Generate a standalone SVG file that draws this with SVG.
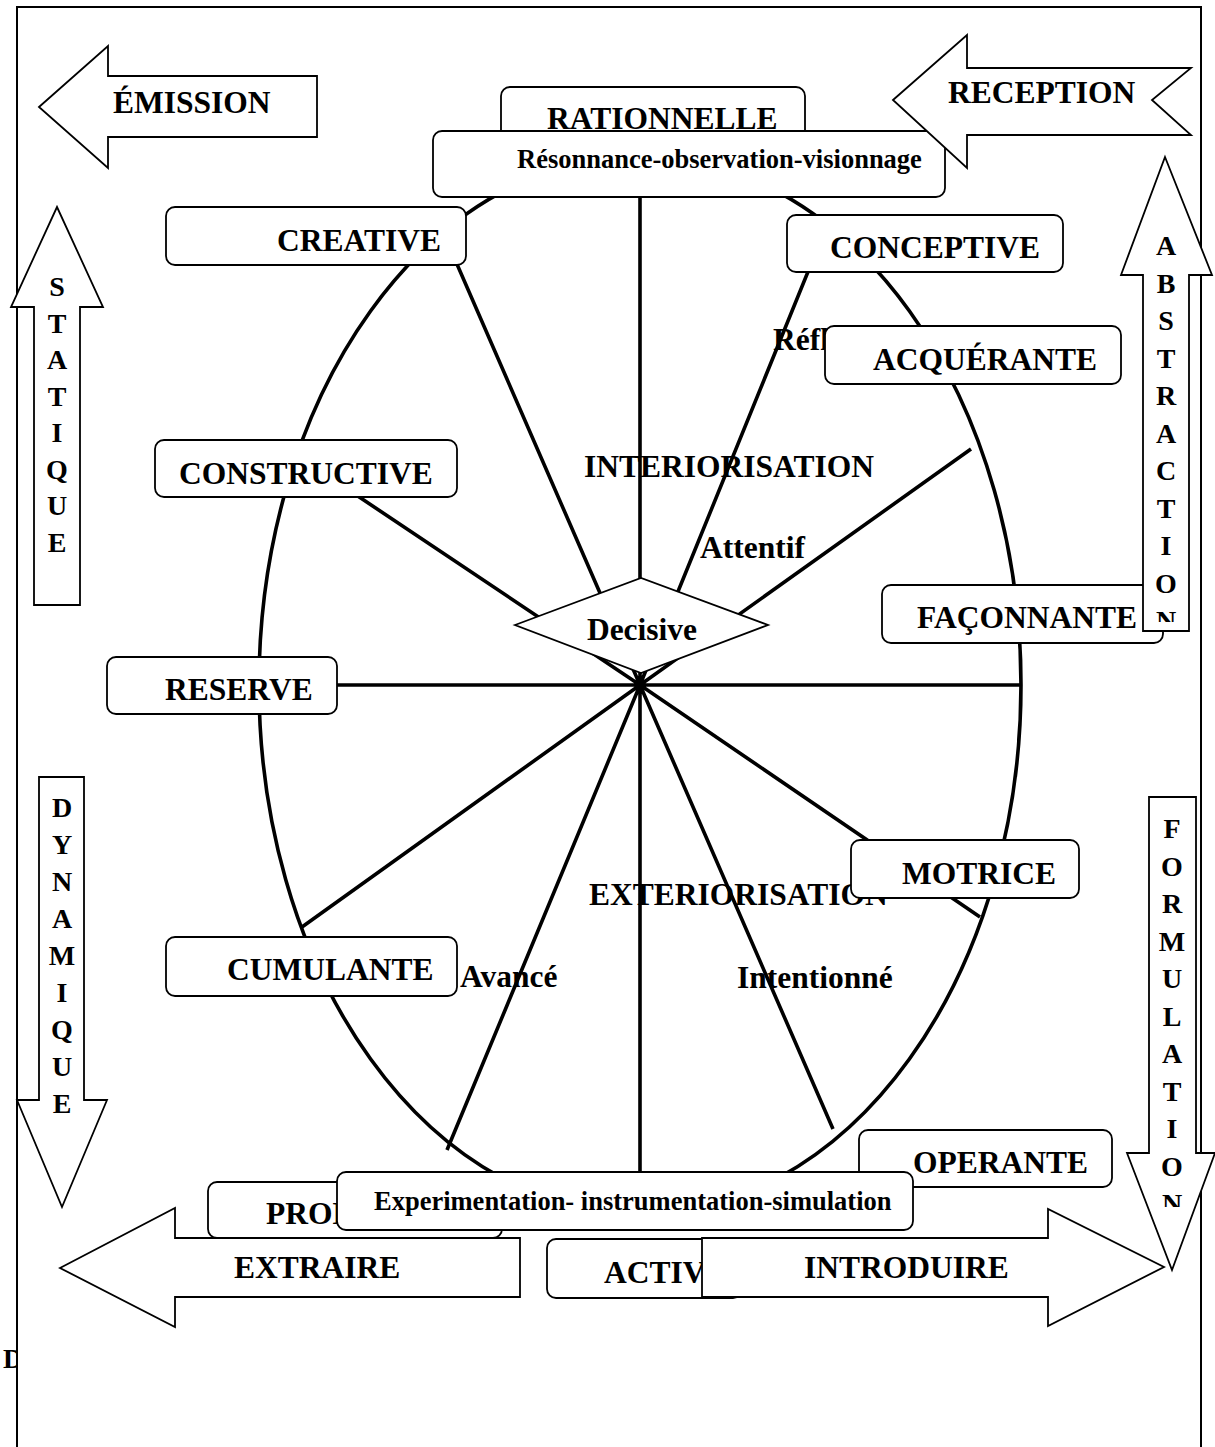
<svg xmlns="http://www.w3.org/2000/svg" width="1215" height="1447" viewBox="0 0 1215 1447">
<style>
.frame{fill:none;stroke:#000;stroke-width:2}
.box{fill:#fff;stroke:#000;stroke-width:1.8}
.arr{fill:#fff;stroke:#000;stroke-width:1.8}
.spoke{stroke:#000;stroke-width:3.6;fill:none}
.t{font-family:"Liberation Serif","Times New Roman",serif;font-weight:bold;font-size:31.5px;fill:#000}
.s{font-size:26.5px}
.v{font-size:28px;text-anchor:middle}
</style>
<defs>
<clipPath id="clipAbs"><rect x="1100" y="150" width="115" height="472"/></clipPath>
<clipPath id="clipForm"><rect x="1100" y="790" width="115" height="417"/></clipPath>
<clipPath id="clipD"><rect x="0" y="1300" width="17" height="100"/></clipPath>
</defs>
<rect width="1215" height="1447" fill="#fff"/>
<path class="frame" d="M17,1447 V7 H1201 V1447"/>

<g id="connectors">
<ellipse class="spoke" cx="640" cy="685" rx="381" ry="529"/>
<path class="spoke" d="M640,685 L640,156 M640,685 L443,232 M640,685 L298,456 M640,685 L260,685 M640,685 L827,225 M640,685 L971,449 M640,685 L1021,685 M640,685 L980,917 M640,685 L833,1129 M640,685 L640,1214 M640,685 L447,1150 M640,685 L302,927"/>
</g>

<g id="labels">
<text class="t" x="584" y="477">INTERIORISATION</text>
<text class="t" x="700" y="558">Attentif</text>
<text class="t" x="773" y="350">Réfl</text>
<text class="t" x="589" y="905">EXTERIORISATION</text>
<text class="t" x="460" y="987">Avancé</text>
<text class="t" x="737" y="988">Intentionné</text>
</g>

<g id="decisive">
<polygon class="box" points="515,625 641,578 768,625 641,673"/>
<text class="t" x="642" y="640" text-anchor="middle">Decisive</text>
</g>

<g id="rationnelle"><rect class="box" x="501" y="87" width="304" height="70" rx="9"/><text class="t" x="547" y="129">RATIONNELLE</text></g>
<g id="resonnance"><rect class="box" x="433" y="131" width="512" height="66" rx="9"/><text class="t s" x="517" y="168">Résonnance-observation-visionnage</text></g>
<g id="creative"><rect class="box" x="166" y="207" width="300" height="58" rx="9"/><text class="t" x="277" y="251">CREATIVE</text></g>
<g id="conceptive"><rect class="box" x="787" y="215" width="276" height="57" rx="9"/><text class="t" x="830" y="258">CONCEPTIVE</text></g>
<g id="acquerante"><rect class="box" x="825" y="326" width="296" height="58" rx="9"/><text class="t" x="873" y="370">ACQUÉRANTE</text></g>
<g id="faconnante"><rect class="box" x="882" y="585" width="281" height="58" rx="9"/><text class="t" x="917" y="628">FAÇONNANTE</text></g>
<g id="constructive"><rect class="box" x="155" y="440" width="302" height="57" rx="9"/><text class="t" x="179" y="484">CONSTRUCTIVE</text></g>
<g id="reserve"><rect class="box" x="107" y="657" width="230" height="57" rx="9"/><text class="t" x="165" y="700">RESERVE</text></g>
<g id="motrice"><rect class="box" x="851" y="840" width="228" height="58" rx="9"/><text class="t" x="902" y="884">MOTRICE</text></g>
<g id="cumulante"><rect class="box" x="166" y="937" width="291" height="59" rx="9"/><text class="t" x="227" y="980">CUMULANTE</text></g>
<g id="operante"><rect class="box" x="859" y="1130" width="253" height="57" rx="9"/><text class="t" x="913" y="1173">OPERANTE</text></g>
<g id="pro"><rect class="box" x="208" y="1182" width="294" height="56" rx="9"/><text class="t" x="266" y="1224">PROD</text></g>
<g id="experimentation"><rect class="box" x="337" y="1172" width="576" height="58" rx="9"/><text class="t s" x="374" y="1210">Experimentation- instrumentation-simulation</text></g>
<g id="activ"><rect class="box" x="547" y="1239" width="195" height="59" rx="9"/><text class="t" x="604" y="1283">ACTIV</text></g>

<g id="emission"><polygon class="arr" points="39,107 108,46 108,76 317,76 317,137 108,137 108,168"/><text class="t" x="113" y="113">ÉMISSION</text></g>
<g id="reception"><polygon class="arr" points="893,100 967,35 967,68 1191,68 1152,100 1191,135 967,135 967,168"/><text class="t" x="948" y="103">RECEPTION</text></g>
<g id="statique"><polygon class="arr" points="57,207 103,307 80,307 80,605 34,605 34,307 11,307"/>
<g class="t v"><text x="57" y="296">S</text><text x="57" y="332.5">T</text><text x="57" y="369">A</text><text x="57" y="405.5">T</text><text x="57" y="442">I</text><text x="57" y="478.5">Q</text><text x="57" y="515">U</text><text x="57" y="551.5">E</text></g></g>
<g id="abstraction"><polygon class="arr" points="1165,157 1212,275 1189,275 1189,631 1143,631 1143,275 1121,275"/>
<g class="t v" clip-path="url(#clipAbs)"><text x="1166" y="255">A</text><text x="1166" y="292.5">B</text><text x="1166" y="330">S</text><text x="1166" y="367.5">T</text><text x="1166" y="405">R</text><text x="1166" y="442.5">A</text><text x="1166" y="480">C</text><text x="1166" y="517.5">T</text><text x="1166" y="555">I</text><text x="1166" y="592.5">O</text><text x="1166" y="630">N</text></g></g>
<g id="dynamique"><polygon class="arr" points="39,777 84,777 84,1100 107,1100 62,1207 17,1100 39,1100"/>
<g class="t v"><text x="62" y="817">D</text><text x="62" y="854">Y</text><text x="62" y="891">N</text><text x="62" y="928">A</text><text x="62" y="965">M</text><text x="62" y="1002">I</text><text x="62" y="1039">Q</text><text x="62" y="1076">U</text><text x="62" y="1113">E</text></g></g>
<g id="formulation"><polygon class="arr" points="1149,797 1196,797 1196,1153 1215,1153 1172,1270 1127,1153 1149,1153"/>
<g class="t v" clip-path="url(#clipForm)"><text x="1172" y="838">F</text><text x="1172" y="875.5">O</text><text x="1172" y="913">R</text><text x="1172" y="950.5">M</text><text x="1172" y="988">U</text><text x="1172" y="1025.5">L</text><text x="1172" y="1063">A</text><text x="1172" y="1100.5">T</text><text x="1172" y="1138">I</text><text x="1172" y="1175.5">O</text><text x="1172" y="1213">N</text></g></g>
<g id="extraire"><polygon class="arr" points="60,1268 175,1208 175,1238 520,1238 520,1297 175,1297 175,1327"/><text class="t" x="234" y="1278">EXTRAIRE</text></g>
<g id="introduire"><polygon class="arr" points="702,1238 1048,1238 1048,1209 1164,1267 1048,1326 1048,1297 702,1297"/><text class="t" x="804" y="1278">INTRODUIRE</text></g>

<g clip-path="url(#clipD)"><text class="t v" x="13" y="1368">D</text></g>
</svg>
